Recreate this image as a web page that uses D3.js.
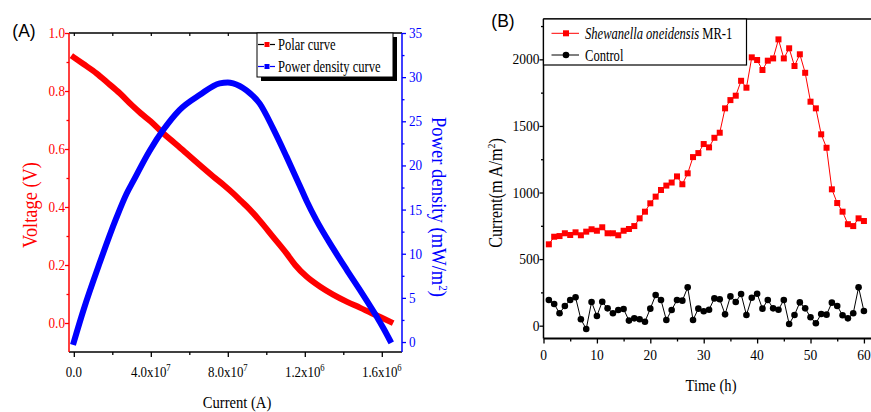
<!DOCTYPE html>
<html>
<head>
<meta charset="utf-8">
<script src="https://cdn.jsdelivr.net/npm/d3@7/dist/d3.min.js"></script>
<style>
  html, body { margin: 0; padding: 0; background: #fff; }
  svg { display: block; }
</style>
</head>
<body>
<svg id="fig" width="871" height="412"></svg>
<script>
// ---------- Panel A: polarisation and power density ----------
// current in amperes, voltage in volts
const polarCurrent = [0, 0.5e-7, 1.18e-7, 1.8e-7, 2.39e-7, 3.0e-7, 3.5e-7, 4.0e-7, 4.64e-7, 5.25e-7, 5.85e-7, 6.5e-7, 7.24e-7, 7.8e-7, 8.28e-7, 8.7e-7, 9.06e-7, 9.66e-7, 10.35e-7, 11.05e-7, 11.5e-7, 12.09e-7, 12.8e-7, 13.47e-7, 14.2e-7, 14.86e-7, 15.5e-7, 16.0e-7, 16.45e-7];
const polarVoltage = [0.916, 0.893, 0.861, 0.826, 0.792, 0.752, 0.722, 0.695, 0.654, 0.620, 0.585, 0.547, 0.505, 0.475, 0.447, 0.420, 0.397, 0.353, 0.297, 0.240, 0.200, 0.160, 0.125, 0.098, 0.073, 0.053, 0.033, 0.018, 0.004];
// power density in mW/m2
const powerCurrent = [0, 0.5e-7, 1.35e-7, 2.2e-7, 2.74e-7, 3.08e-7, 3.95e-7, 4.64e-7, 5.5e-7, 6.55e-7, 7.58e-7, 8.0e-7, 8.28e-7, 8.97e-7, 9.66e-7, 10.35e-7, 11.05e-7, 11.74e-7, 12.09e-7, 12.6e-7, 13.47e-7, 14.2e-7, 14.86e-7, 15.3e-7, 15.73e-7, 16.1e-7, 16.42e-7];
const powerDensity = [0, 3.6, 9.0, 14.0, 16.8, 18.2, 21.7, 24.0, 26.3, 28.0, 29.3, 29.4, 29.3, 28.5, 27.0, 24.2, 21.0, 17.7, 16.0, 13.8, 10.6, 8.1, 5.9, 4.4, 2.9, 1.5, 0.2];

const currentTicksA = [0, 4e-7, 8e-7, 1.2e-6, 1.6e-6];
const currentTickLabelsA = ["0.0", "4.0x10^7", "8.0x10^7", "1.2x10^6", "1.6x10^6"];
const voltageTicks = [0, 0.2, 0.4, 0.6, 0.8, 1.0];
const powerTicks = [0, 5, 10, 15, 20, 25, 30, 35];

// ---------- Panel B: current over time ----------
const hours = d3.range(1, 61);
const mr1Current = [611, 668, 673, 694, 681, 701, 679, 706, 724, 713, 739, 694, 694, 679, 713, 726, 748, 806, 856, 919,
                    969, 1019, 1052, 1075, 1121, 1062, 1144, 1266, 1296, 1364, 1339, 1411, 1449, 1632, 1694, 1727, 1839, 1787, 2015, 1995,
                    1920, 1990, 2007, 2150, 2007, 2083, 1950, 2038, 1899, 1682, 1632, 1437, 1336, 1024, 921, 856, 762, 748, 806, 786];
const controlCurrent = [193, 163, 93, 148, 193, 213, 48, -25, 178, 73, 180, 130, 93, 118, 125, 38, 55, 48, 30, 128,
                        230, 193, 43, 118, 193, 188, 288, 43, 128, 108, 120, 205, 198, 85, 220, 178, 238, 80, 210, 240,
                        128, 193, 130, 120, 193, 13, 80, 175, 130, 63, 18, 88, 83, 173, 148, 78, 55, 93, 288, 110];
const timeTicks = [0, 10, 20, 30, 40, 50, 60];
const currentTicksB = [0, 500, 1000, 1500, 2000];

// ---------- drawing ----------
const SERIF = "'Liberation Serif','Times New Roman',serif";
const SANS = "'Liberation Sans',Arial,sans-serif";
const RED = "#ff0000", BLUE = "#0000ff";
const svg = d3.select("#fig");
svg.append("rect").attr("width", 871).attr("height", 412).attr("fill", "#fff");

// text with a horizontal squeeze, optionally rotated
function label(parent, x, y, str, o = {}) {
  const t = parent.append("text")
    .attr("transform", `translate(${x},${y}) rotate(${o.rotate || 0}) scale(${o.sx || 0.88},1)`)
    .attr("font-family", o.family || SERIF)
    .attr("font-size", o.size || 15)
    .attr("fill", o.color || "#000")
    .attr("text-anchor", o.anchor || "middle");
  if (o.italic) t.attr("font-style", "italic");
  return t.text(str);
}
// "mantissa^exp" -> text with a raised exponent
function withExponent(t, str, expSize) {
  const [m, e] = str.split("^");
  t.text(null);
  t.append("tspan").text(m);
  if (e) t.append("tspan").attr("font-size", expSize).attr("dy", -6).text(e);
}

// ===== Panel A =====
const A = { left: 69, right: 402, top: 33, bottom: 352 };
const xA = d3.scaleLinear().domain([-0.25e-7, 17.05e-7]).range([A.left, A.right]);
const yV = d3.scaleLinear().domain([-0.1, 1.0]).range([A.bottom, A.top]);
const yP = d3.scaleLinear().domain([-1.13, 35]).range([A.bottom, A.top]);
const gA = svg.append("g");

function styleAxis(sel, color, width) {
  sel.select(".domain").remove();
  sel.selectAll(".tick line").attr("stroke", color).attr("stroke-width", width);
  sel.selectAll(".tick text").remove();
}
const minorX = [2e-7, 6e-7, 1.0e-6, 1.4e-6];
gA.append("g").attr("transform", `translate(0,${A.bottom})`)
  .call(d3.axisBottom(xA).tickValues(currentTicksA).tickSize(5)).call(s => styleAxis(s, "#000", 1.3));
gA.append("g").attr("transform", `translate(0,${A.bottom})`)
  .call(d3.axisBottom(xA).tickValues(minorX).tickSize(3)).call(s => styleAxis(s, "#000", 1.3));
gA.append("g").attr("transform", `translate(0,${A.top})`)
  .call(d3.axisBottom(xA).tickValues(currentTicksA.concat(minorX)).tickSize(3)).call(s => styleAxis(s, "#000", 1.2));
gA.append("g").attr("transform", `translate(${A.left},0)`)
  .call(d3.axisLeft(yV).tickValues(voltageTicks).tickSize(4)).call(s => styleAxis(s, RED, 1.3));
gA.append("g").attr("transform", `translate(${A.left},0)`)
  .call(d3.axisLeft(yV).tickValues([0.1, 0.3, 0.5, 0.7, 0.9]).tickSize(2.5)).call(s => styleAxis(s, RED, 1.3));
gA.append("g").attr("transform", `translate(${A.right},0)`)
  .call(d3.axisRight(yP).tickValues(powerTicks).tickSize(4)).call(s => styleAxis(s, BLUE, 1.3));
gA.append("g").attr("transform", `translate(${A.right},0)`)
  .call(d3.axisRight(yP).tickValues([2.5, 7.5, 12.5, 17.5, 22.5, 27.5, 32.5])).call(s => styleAxis(s, BLUE, 1.3))
  .selectAll(".tick line").attr("x2", 2.5);

// frame
gA.append("line").attr("x1", A.left).attr("x2", A.right).attr("y1", A.top).attr("y2", A.top).attr("stroke", "#000").attr("stroke-width", 1.3);
gA.append("line").attr("x1", A.left).attr("x2", A.right).attr("y1", A.bottom).attr("y2", A.bottom).attr("stroke", "#000").attr("stroke-width", 1.5);
gA.append("line").attr("x1", A.left).attr("x2", A.left).attr("y1", A.top).attr("y2", A.bottom).attr("stroke", RED).attr("stroke-width", 1.5);
gA.append("line").attr("x1", A.right).attr("x2", A.right).attr("y1", A.top).attr("y2", A.bottom).attr("stroke", BLUE).attr("stroke-width", 1.5);

// tick labels
currentTicksA.forEach((v, i) => {
  const t = label(gA, xA(v), 377, currentTickLabelsA[i], { size: 15, sx: 0.86 });
  withExponent(t, currentTickLabelsA[i], 10);
});
voltageTicks.forEach(v => label(gA, A.left - 4, yV(v) + 5, v.toFixed(1), { size: 15, anchor: "end", color: RED }));
powerTicks.forEach(v => label(gA, A.right + 7, yP(v) + 5, String(v), { size: 15, anchor: "start", color: BLUE }));

// axis titles
label(gA, 237, 408, "Current (A)", { size: 17, sx: 0.86 });
label(gA, 37, 205, "Voltage (V)", { size: 20, sx: 0.92, color: RED, rotate: -90 });
{
  const t = label(gA, 432, 207, "", { size: 20, sx: 0.93, color: BLUE, rotate: 90 });
  t.append("tspan").text("Power density (mW/m");
  t.append("tspan").attr("font-size", 12).attr("dy", -7).text("2");
  t.append("tspan").attr("dy", 7).text(")");
}

// curves
const polarData = polarCurrent.map((c, i) => [c, polarVoltage[i]]);
const powerData = powerCurrent.map((c, i) => [c, powerDensity[i]]);
gA.append("path").datum(polarData)
  .attr("d", d3.line().x(d => xA(d[0])).y(d => yV(d[1])).curve(d3.curveMonotoneX))
  .attr("fill", "none").attr("stroke", RED).attr("stroke-width", 6).attr("stroke-linecap", "square");
gA.append("path").datum(powerData)
  .attr("d", d3.line().x(d => xA(d[0])).y(d => yP(d[1])).curve(d3.curveMonotoneX))
  .attr("fill", "none").attr("stroke", BLUE).attr("stroke-width", 6).attr("stroke-linecap", "square");

// legend with drop shadow
{
  const lx = 257, ly = 33, lw = 136, lh = 44;
  gA.append("rect").attr("x", lx + 4).attr("y", ly + 4).attr("width", lw).attr("height", lh).attr("fill", "#000");
  gA.append("rect").attr("x", lx).attr("y", ly).attr("width", lw).attr("height", lh)
    .attr("fill", "#fff").attr("stroke", "#000").attr("stroke-width", 1);
  const entries = [["Polar curve", "#000", RED, 44.5], ["Power density curve", BLUE, BLUE, 66.5]];
  entries.forEach(([name, lineCol, markCol, cy]) => {
    gA.append("line").attr("x1", 258).attr("x2", 264).attr("y1", cy).attr("y2", cy).attr("stroke", lineCol).attr("stroke-width", 1.2);
    gA.append("line").attr("x1", 270).attr("x2", 275).attr("y1", cy).attr("y2", cy).attr("stroke", lineCol).attr("stroke-width", 1.2);
    gA.append("rect").attr("x", 264.5).attr("y", cy - 2.5).attr("width", 5).attr("height", 5).attr("fill", markCol);
    label(gA, 278, cy + 5, name, { size: 17, sx: 0.74, anchor: "start" });
  });
}
label(svg, 24, 37, "(A)", { family: SANS, size: 19, sx: 0.92 });

// ===== Panel B =====
const B = { left: 543.5, right: 874.6, top: 19, bottom: 338.5 };
const xB = d3.scaleLinear().domain([0, 62]).range([B.left, B.right]);
const yB = d3.scaleLinear().domain([-100, 2300]).range([339, 19.4]);
const gB = svg.append("g");

gB.append("g").attr("transform", `translate(0,${B.bottom})`)
  .call(d3.axisBottom(xB).tickValues(timeTicks).tickSize(5)).call(s => styleAxis(s, "#000", 1.3));
gB.append("g").attr("transform", `translate(0,${B.bottom})`)
  .call(d3.axisBottom(xB).tickValues([5, 15, 25, 35, 45, 55]).tickSize(3)).call(s => styleAxis(s, "#000", 1.3));
gB.append("g").attr("transform", `translate(${B.left},0)`)
  .call(d3.axisLeft(yB).tickValues(currentTicksB).tickSize(4)).call(s => styleAxis(s, "#000", 1.3));
gB.append("g").attr("transform", `translate(${B.left},0)`)
  .call(d3.axisLeft(yB).tickValues([250, 750, 1250, 1750, 2250]).tickSize(2.5)).call(s => styleAxis(s, "#000", 1.3));

gB.append("line").attr("x1", B.left).attr("x2", B.right).attr("y1", B.top).attr("y2", B.top).attr("stroke", "#000").attr("stroke-width", 1.3);
gB.append("line").attr("x1", B.left).attr("x2", B.right).attr("y1", B.bottom).attr("y2", B.bottom).attr("stroke", "#000").attr("stroke-width", 2);
gB.append("line").attr("x1", B.left).attr("x2", B.left).attr("y1", B.top).attr("y2", B.bottom).attr("stroke", "#000").attr("stroke-width", 1.5);
gB.append("line").attr("x1", B.right).attr("x2", B.right).attr("y1", B.top).attr("y2", B.bottom).attr("stroke", "#000").attr("stroke-width", 1.3);

timeTicks.forEach(v => label(gB, xB(v), 360, String(v), { size: 15, sx: 0.9 }));
currentTicksB.forEach(v => label(gB, B.left - 4, yB(v) + 5, String(v), { size: 15, sx: 0.9, anchor: "end" }));

label(gB, 711, 391, "Time (h)", { size: 17, sx: 0.86 });
{
  const t = label(gB, 502, 193, "", { size: 18, sx: 0.9, rotate: -90 });
  t.append("tspan").text("Current(m A/m");
  t.append("tspan").attr("font-size", 11).attr("dy", -7).text("2");
  t.append("tspan").attr("dy", 7).text(")");
}

const lineB = (vals) => d3.line().x((d, i) => xB(hours[i])).y(d => yB(d))(vals);
gB.append("path").attr("d", lineB(controlCurrent)).attr("fill", "none").attr("stroke", "#000").attr("stroke-width", 1);
gB.append("path").attr("d", lineB(mr1Current)).attr("fill", "none").attr("stroke", RED).attr("stroke-width", 1);
gB.append("g").selectAll("circle").data(controlCurrent).join("circle")
  .attr("cx", (d, i) => xB(hours[i])).attr("cy", d => yB(d)).attr("r", 3.3).attr("fill", "#000");
gB.append("g").selectAll("rect").data(mr1Current).join("rect")
  .attr("x", (d, i) => xB(hours[i]) - 3).attr("y", d => yB(d) - 3).attr("width", 6).attr("height", 6).attr("fill", RED);

// legend
{
  gB.append("rect").attr("x", B.left).attr("y", B.top).attr("width", 203).attr("height", 46)
    .attr("fill", "#fff").attr("stroke", "#000").attr("stroke-width", 1.2);
  const cyR = 33.3, cyK = 55;
  gB.append("line").attr("x1", 551.5).attr("x2", 579).attr("y1", cyR).attr("y2", cyR).attr("stroke", RED).attr("stroke-width", 1);
  gB.append("rect").attr("x", 563).attr("y", cyR - 3).attr("width", 6).attr("height", 6).attr("fill", RED);
  gB.append("line").attr("x1", 551.5).attr("x2", 579).attr("y1", cyK).attr("y2", cyK).attr("stroke", "#000").attr("stroke-width", 1);
  gB.append("circle").attr("cx", 566).attr("cy", cyK).attr("r", 3.3).attr("fill", "#000");
  const t = label(gB, 585, cyR + 5.5, "", { size: 17, sx: 0.74, anchor: "start" });
  t.append("tspan").attr("font-style", "italic").text("Shewanella oneidensis");
  t.append("tspan").text(" MR-1");
  label(gB, 585, cyK + 5.5, "Control", { size: 17, sx: 0.74, anchor: "start" });
}
label(svg, 503, 27, "(B)", { family: SANS, size: 19, sx: 0.92 });
</script>
</body>
</html>
